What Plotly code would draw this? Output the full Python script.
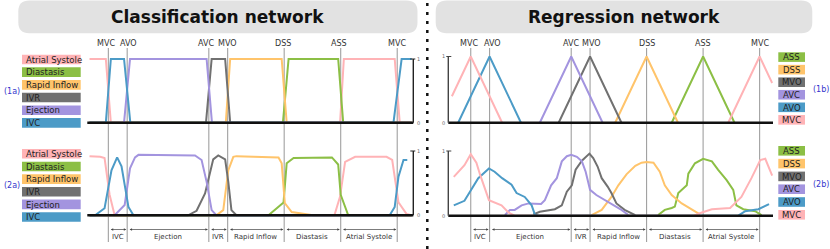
import plotly.graph_objects as go

W, H = 830, 249

# ---------------- data ----------------
event_names = ["MVC", "AVO", "AVC", "MVO", "DSS", "ASS", "MVC"]
event_frames = [3, 6, 19, 22, 31, 40, 49]
phase_names = ["IVC", "Ejection", "IVR", "Rapid Inflow", "Diastasis", "Atrial Systole"]

cls_labels = ["Atrial Systole", "Diastasis", "Rapid Inflow", "IVR", "Ejection", "IVC"]
reg_labels = ["ASS", "DSS", "MVO", "AVC", "AVO", "MVC"]

# (1a) classification, ground truth
a1_atrial_x = [0, 2.6, 3.4, 39.9, 40.5, 48.6, 49.4, 51.3]
a1_atrial_y = [1, 1, 0, 0, 1, 1, 0, 0]
a1_diast_x = [0, 30.8, 31.7, 39.6, 40.4, 51.3]
a1_diast_y = [0, 0, 1, 1, 0, 0]
a1_rapid_x = [0, 21.7, 22.4, 30.6, 31.4, 51.3]
a1_rapid_y = [0, 0, 1, 1, 0, 0]
a1_ivr_x = [0, 18.55, 19.45, 21.6, 22.4, 51.3]
a1_ivr_y = [0, 0, 1, 1, 0, 0]
a1_eject_x = [0, 5.5, 6.45, 18.65, 19.5, 51.3]
a1_eject_y = [0, 0, 1, 1, 0, 0]
a1_ivc_x = [0, 2.6, 3.4, 5.5, 6.5, 48.4, 49.7, 51.3]
a1_ivc_y = [0, 0, 1, 1, 0, 0, 1, 1]

# (2a) classification, predicted
a2_atrial_x = [0, 1.7, 2.4, 3.2, 4.0, 39.0, 39.9, 40.7, 42.3, 47.3, 48.2, 49.2, 50.5, 51.3]
a2_atrial_y = [0.92, 0.91, 0.89, 0.32, 0.0, 0.0, 0.29, 0.83, 0.91, 0.91, 0.86, 0.2, 0.02, 0.0]
a2_diast_x = [0, 28.5, 30.9, 31.4, 32.5, 38.6, 39.6, 40.0, 41.2, 51.3]
a2_diast_y = [0, 0, 0.2, 0.81, 0.89, 0.9, 0.79, 0.32, 0, 0]
a2_rapid_x = [0, 20.2, 21.3, 22.1, 22.9, 23.4, 30.1, 30.6, 31.1, 32.2, 35.6, 51.3]
a2_rapid_y = [0, 0, 0.08, 0.7, 0.91, 0.92, 0.9, 0.81, 0.19, 0.05, 0, 0]
a2_ivr_x = [0, 15.7, 17.05, 18.4, 19.7, 20.5, 21.6, 22.1, 22.6, 23.4, 51.3]
a2_ivr_y = [0, 0, 0.07, 0.34, 0.87, 0.93, 0.87, 0.52, 0.08, 0, 0]
a2_eject_x = [0, 4.0, 5.6, 6.45, 7.25, 7.8, 16.8, 17.85, 18.65, 19.45, 20.2, 51.3]
a2_eject_y = [0, 0, 0.16, 0.73, 0.9, 0.94, 0.93, 0.86, 0.52, 0.08, 0, 0]
a2_ivc_x = [0, 0.9, 2.4, 3.5, 4.4, 5.1, 6.2, 7.0, 47.8, 48.6, 49.2, 50.0, 50.6]
a2_ivc_y = [0, 0, 0.11, 0.7, 0.9, 0.76, 0.13, 0, 0, 0.13, 0.6, 0.86, 0.86]

# (1b) regression, ground truth
b1_ass_x = [35, 40, 45]
b1_ass_y = [0, 1, 0]
b1_dss_x = [26, 31, 36]
b1_dss_y = [0, 1, 0]
b1_mvo_x = [17, 22, 27]
b1_mvo_y = [0, 1, 0]
b1_avc_x = [14, 19, 24]
b1_avc_y = [0, 1, 0]
b1_avo_x = [1, 6, 11]
b1_avo_y = [0, 1, 0]
b1_mvc_x = [0, 3, 8, None, 44, 49, 51]
b1_mvc_y = [0.4, 1, 0, None, 0, 1, 0.6]

# (2b) regression, predicted
b2_ass_x = [32.85, 33.9, 35.0, 35.5, 36.05, 37.4, 37.65, 38.7, 40.0, 41.4, 42.4, 43.75, 44.8, 45.3, 46.4, 48.3, 49.3]
b2_ass_y = [0.01, 0.09, 0.12, 0.14, 0.35, 0.47, 0.65, 0.81, 0.88, 0.84, 0.71, 0.55, 0.40, 0.16, 0.10, 0.07, 0.01]
b2_dss_x = [22.25, 23.85, 25.4, 26.5, 27.8, 29.2, 30.2, 31.0, 32.1, 33.1, 33.9, 35.0, 36.6, 38.2, 39.5]
b2_dss_y = [0.01, 0.09, 0.29, 0.47, 0.64, 0.77, 0.82, 0.83, 0.82, 0.68, 0.47, 0.32, 0.19, 0.09, 0.02]
b2_mvo_x = [12.97, 14.0, 16.4, 17.5, 18.3, 19.1, 19.7, 20.7, 21.9, 22.5, 23.2, 23.85, 24.8, 25.4, 26.2, 27.5, 29.2]
b2_mvo_y = [0.02, 0.06, 0.10, 0.16, 0.37, 0.47, 0.71, 0.85, 0.96, 0.89, 0.76, 0.58, 0.45, 0.35, 0.19, 0.09, 0.01]
b2_avc_x = [8.45, 9.25, 10.0, 11.1, 12.2, 14.2, 14.8, 15.8, 16.7, 17.5, 18.3, 19.0, 19.9, 20.7, 21.3, 22.0, 23.0, 24.9, 27.0, 28.1]
b2_avc_y = [0.01, 0.09, 0.09, 0.16, 0.19, 0.18, 0.24, 0.47, 0.58, 0.84, 0.92, 0.94, 0.91, 0.84, 0.68, 0.40, 0.32, 0.21, 0.09, 0.01]
b2_avo_x = [0.3, 2.0, 4.2, 5.9, 6.8, 8.0, 9.5, 10.3, 11.6, 12.7, 13.2, 13.8, 45.6, 46.7, 48.8, 50.5]
b2_avo_y = [0.16, 0.23, 0.58, 0.73, 0.68, 0.58, 0.48, 0.35, 0.29, 0.16, 0.02, 0, 0, 0.07, 0.10, 0.18]
b2_mvc_x = [0.3, 2.0, 3.0, 3.9, 4.5, 5.9, 7.9, 9.0, 10.0, 38.5, 39.8, 41.4, 44.3, 46.1, 47.7, 49.1, 49.9, 51.0]
b2_mvc_y = [0.60, 0.78, 0.95, 0.82, 0.63, 0.24, 0.16, 0.05, 0.0, 0.0, 0.05, 0.10, 0.12, 0.29, 0.58, 0.86, 0.88, 0.62]

# ---------------- styles ----------------
PINK, GREEN, ORANGE, GRAY, PURPLE, BLUE = "#ffb3b6", "#8cbf45", "#ffc46b", "#717171", "#a394df", "#4c9bc7"
cls_colors = [PINK, GREEN, ORANGE, GRAY, PURPLE, BLUE]
reg_colors = [GREEN, ORANGE, GRAY, PURPLE, BLUE, PINK]
FONT = "DejaVu Sans"


def px2x(px):
    return px / W


def px2y(py):
    return 1 - py / H


YLO, YHI = -0.05, 1.1


def ydomain(p0, p1):
    unit = p0 - p1
    top = p1 - (YHI - 1) * unit
    bot = p0 - YLO * unit
    return [px2y(bot), px2y(top)]


PPF = 6.28  # pixels per frame


def xrange_(d0, d1, f0):
    return [(d0 - f0) / PPF, (d1 - f0) / PPF]


LX = (87.3, 413.3)
RX = (448.3, 773.0)
LF0, RF0 = 89.5, 451.9

fig = go.Figure()

panels = [
    ("x", "y", [(a1_atrial_x, a1_atrial_y), (a1_diast_x, a1_diast_y), (a1_rapid_x, a1_rapid_y),
                (a1_ivr_x, a1_ivr_y), (a1_eject_x, a1_eject_y), (a1_ivc_x, a1_ivc_y)], cls_colors),
    ("x2", "y2", [(b1_ass_x, b1_ass_y), (b1_dss_x, b1_dss_y), (b1_mvo_x, b1_mvo_y),
                  (b1_avc_x, b1_avc_y), (b1_avo_x, b1_avo_y), (b1_mvc_x, b1_mvc_y)], reg_colors),
    ("x3", "y3", [(a2_atrial_x, a2_atrial_y), (a2_diast_x, a2_diast_y), (a2_rapid_x, a2_rapid_y),
                  (a2_ivr_x, a2_ivr_y), (a2_eject_x, a2_eject_y), (a2_ivc_x, a2_ivc_y)], cls_colors),
    ("x4", "y4", [(b2_ass_x, b2_ass_y), (b2_dss_x, b2_dss_y), (b2_mvo_x, b2_mvo_y),
                  (b2_avc_x, b2_avc_y), (b2_avo_x, b2_avo_y), (b2_mvc_x, b2_mvc_y)], reg_colors),
]
for xa, ya, series, cols in panels:
    for (sx, sy), c in zip(series, cols):
        fig.add_trace(go.Scatter(x=sx, y=sy, mode="lines", line=dict(color=c, width=2),
                                 xaxis=xa, yaxis=ya, hoverinfo="skip", showlegend=False))

ax_common = dict(visible=False, showgrid=False, zeroline=False, fixedrange=True)
layout = dict(
    width=W, height=H, margin=dict(l=0, r=0, t=0, b=0),
    paper_bgcolor="white", plot_bgcolor="rgba(0,0,0,0)", showlegend=False,
    font=dict(family=FONT, color="#222"),
    xaxis=dict(domain=[px2x(LX[0]), px2x(LX[1])], range=xrange_(*LX, LF0), anchor="y", **ax_common),
    yaxis=dict(domain=ydomain(122.7, 59.0), range=[YLO, YHI], anchor="x", **ax_common),
    xaxis2=dict(domain=[px2x(RX[0]), px2x(RX[1])], range=xrange_(*RX, RF0), anchor="y2", **ax_common),
    yaxis2=dict(domain=ydomain(122.7, 56.5), range=[YLO, YHI], anchor="x2", **ax_common),
    xaxis3=dict(domain=[px2x(LX[0]), px2x(LX[1])], range=xrange_(*LX, LF0), anchor="y3", **ax_common),
    yaxis3=dict(domain=ydomain(215.3, 151.0), range=[YLO, YHI], anchor="x3", **ax_common),
    xaxis4=dict(domain=[px2x(RX[0]), px2x(RX[1])], range=xrange_(*RX, RF0), anchor="y4", **ax_common),
    yaxis4=dict(domain=ydomain(215.7, 151.0), range=[YLO, YHI], anchor="x4", **ax_common),
)
fig.update_layout(**layout)

shapes = []
annotations = []


def rrect(x0, y0, x1, y1, r):
    P = lambda x, y: f"{px2x(x):.5f},{px2y(y):.5f}"
    return (f"M{P(x0 + r, y0)} L{P(x1 - r, y0)} Q{P(x1, y0)} {P(x1, y0 + r)} "
            f"L{P(x1, y1 - r)} Q{P(x1, y1)} {P(x1 - r, y1)} L{P(x0 + r, y1)} "
            f"Q{P(x0, y1)} {P(x0, y1 - r)} L{P(x0, y0 + r)} Q{P(x0, y0)} {P(x0 + r, y0)} Z")


# title boxes
for (bx0, bx1), title in [((18.3, 417.5), "Classification network"), ((435.7, 812.3), "Regression network")]:
    shapes.append(dict(type="path", xref="paper", yref="paper", path=rrect(bx0, 0.5, bx1, 33.3, 11),
                       fillcolor="#e2e2e2", line=dict(width=0), layer="below"))
    annotations.append(dict(xref="paper", yref="paper", x=px2x((bx0 + bx1) / 2), y=px2y(17.5),
                            text=f"<b>{title}</b>", showarrow=False, xanchor="center", yanchor="middle",
                            font=dict(size=17, color="#111", family=FONT)))

# dotted separator
shapes.append(dict(type="line", xref="paper", yref="paper", x0=px2x(427.3), x1=px2x(427.3),
                   y0=px2y(3), y1=px2y(249), line=dict(color="#111", width=2.5, dash="3px,6px")))

# event lines and labels
label_shift_left = [-2.5, 1, -2.5, 0, -1, -2, 0]
label_shift_right = [-1.5, 2.5, -0.5, 1, 0, 0, 0]
for xa, shifts in [("x", label_shift_left), ("x2", label_shift_right)]:
    for name, f, s in zip(event_names, event_frames, shifts):
        shapes.append(dict(type="line", xref=xa, yref="paper", x0=f, x1=f, y0=px2y(242), y1=px2y(48),
                           line=dict(color="#a0a0a0", width=1.1), layer="below"))
        annotations.append(dict(xref=xa, yref="paper", x=f, y=px2y(43.5), text=name, showarrow=False,
                                xanchor="center", yanchor="middle", xshift=s,
                                font=dict(size=8, color="#333", family=FONT)))

# baselines and value axes
for xa, ya in [("x", "y"), ("x2", "y2"), ("x3", "y3"), ("x4", "y4")]:
    shapes.append(dict(type="line", xref=f"{xa} domain", yref=ya, x0=0, x1=1, y0=0, y1=0,
                       line=dict(color="#111", width=2.5), layer="above"))
for xa, ya in [("x", "y"), ("x3", "y3")]:
    shapes.append(dict(type="line", xref=f"{xa} domain", yref=ya, x0=1, x1=1, y0=0, y1=1,
                       line=dict(color="#222", width=1.4)))
    shapes.append(dict(type="line", xref=f"{xa} domain", yref=ya, x0=1 - 3 / 326, x1=1 + 2 / 326, y0=1, y1=1,
                       line=dict(color="#222", width=1)))
    for v in (1, 0):
        annotations.append(dict(xref="paper", yref=ya, x=px2x(415.5), y=v, text=str(v), showarrow=False,
                                xanchor="left", yanchor="middle", font=dict(size=5, color="#666", family=FONT)))
for xa, ya in [("x2", "y2"), ("x4", "y4")]:
    shapes.append(dict(type="line", xref=f"{xa} domain", yref=ya, x0=0, x1=0, y0=0, y1=1,
                       line=dict(color="#444", width=1.4)))
    shapes.append(dict(type="line", xref=f"{xa} domain", yref=ya, x0=-2 / 325, x1=3 / 325, y0=1, y1=1,
                       line=dict(color="#444", width=1)))
    for v in (1, 0):
        annotations.append(dict(xref="paper", yref=ya, x=px2x(446.5), y=v, text=str(v), showarrow=False,
                                xanchor="right", yanchor="middle", font=dict(size=5, color="#666", family=FONT)))

# phase arrows and labels (bottom row)
for xa in ["x3", "x4"]:
    for i, ph in enumerate(phase_names):
        f0, f1 = event_frames[i], event_frames[i + 1]
        annotations.append(dict(xref=xa, yref="paper", x=f1 - 0.15, y=px2y(229.5), axref=xa, ax=f0 + 0.15,
                                ayref="pixel", ay=0, text="", showarrow=True, arrowhead=2,
                                arrowside="end+start", arrowsize=0.7, arrowwidth=0.7, arrowcolor="#444",
                                standoff=0, startstandoff=0))
        annotations.append(dict(xref=xa, yref="paper", x=(f0 + f1) / 2, y=px2y(237), text=ph, showarrow=False,
                                xanchor="center", yanchor="middle", font=dict(size=7, color="#333", family=FONT)))

# legend boxes
def legend(labels, colors, x0, x1, top0, step, align):
    for i, (lab, col) in enumerate(zip(labels, colors)):
        t = top0 + i * step
        shapes.append(dict(type="rect", xref="paper", yref="paper", x0=px2x(x0), x1=px2x(x1),
                           y0=px2y(t + 9.6), y1=px2y(t), fillcolor=col, line=dict(width=0)))
        if align == "left":
            annotations.append(dict(xref="paper", yref="paper", x=px2x(x0 + 2), y=px2y(t + 5), text=lab,
                                    showarrow=False, xanchor="left", yanchor="middle",
                                    font=dict(size=8.5, color="#222", family=FONT)))
        else:
            annotations.append(dict(xref="paper", yref="paper", x=px2x((x0 + x1) / 2), y=px2y(t + 5), text=lab,
                                    showarrow=False, xanchor="center", yanchor="middle",
                                    font=dict(size=8.5, color="#222", family=FONT)))


legend(cls_labels, cls_colors, 22, 80.7, 54.7, 12.67, "left")
legend(cls_labels, cls_colors, 22, 80.7, 149.0, 12.65, "left")
legend(reg_labels, reg_colors, 778.3, 805.0, 52.3, 12.55, "center")
legend(reg_labels, reg_colors, 778.3, 805.0, 146.0, 12.8, "center")

for tag, x, y, anchor in [("(1a)", 12, 91, "center"), ("(2a)", 12, 185.7, "center"),
                          ("(1b)", 829.5, 89.3, "right"), ("(2b)", 829.5, 184, "right")]:
    annotations.append(dict(xref="paper", yref="paper", x=px2x(x), y=px2y(y), text=tag, showarrow=False,
                            xanchor=anchor, yanchor="middle", borderpad=0,
                            font=dict(size=8, color="#3535cc", family=FONT)))

fig.update_layout(shapes=shapes, annotations=annotations)
fig.write_html("out.html", config={"displayModeBar": False},
               post_script="document.body.style.margin='0';")
